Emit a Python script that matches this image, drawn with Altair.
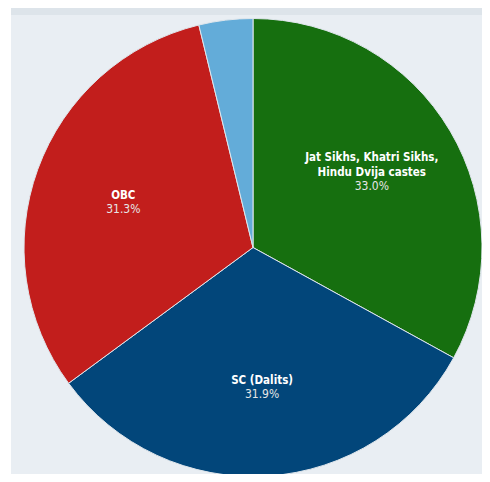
import altair as alt
import pandas as pd

line1 = ["Jat Sikhs, Khatri Sikhs,", "", "", ""]
line2 = ["Hindu Dvija castes", "SC (Dalits)", "OBC", ""]
groups = ["Jat Sikhs, Khatri Sikhs, Hindu Dvija castes", "SC (Dalits)", "OBC", "Others"]
shares = [33.0, 31.9, 31.3, 3.8]
pct_labels = ["33.0%", "31.9%", "31.3%", ""]
colors = ["#166f0f", "#02467a", "#c21e1c", "#63acd9"]
order = [0, 1, 2, 3]

df = pd.DataFrame({"group": groups, "l1": line1, "l2": line2, "share": shares,
                   "pct": pct_labels, "ord": order})

CX, CY, R = 245, 239.5, 229
FONT = "Liberation Sans Narrow, DejaVu Sans Condensed, Roboto"

band = alt.Chart(pd.DataFrame({"a": [0]})).mark_rect(color="#dde4ea").encode(
    x=alt.value(3), x2=alt.value(474), y=alt.value(0), y2=alt.value(7)
)
whitestrip = alt.Chart(pd.DataFrame({"a": [0]})).mark_rect(color="#ffffff").encode(
    x=alt.value(0), x2=alt.value(3), y=alt.value(0), y2=alt.value(466)
)

pie = alt.Chart(df).mark_arc(stroke="#dfe6ec", strokeWidth=1).encode(
    theta=alt.Theta("share:Q", stack=True),
    order=alt.Order("ord:Q"),
    color=alt.Color("group:N", scale=alt.Scale(domain=groups, range=colors), legend=None),
    x=alt.value(CX), y=alt.value(CY), radius=alt.value(R),
)

lbase = alt.Chart(df).encode(
    theta=alt.Theta("share:Q", stack=True),
    order=alt.Order("ord:Q"),
    x=alt.value(CX), y=alt.value(CY + 4), radius=alt.value(138),
)

name1 = lbase.mark_text(
    font=FONT, fontSize=11.5, fontWeight="bold", color="#ffffff",
    baseline="bottom", dy=-18,
).encode(text="l1:N")
name2 = lbase.mark_text(
    font=FONT, fontSize=11.5, fontWeight="bold", color="#ffffff",
    baseline="bottom", dy=-3,
).encode(text="l2:N")

pcts = lbase.mark_text(
    font=FONT, fontSize=12, color="#e6e6e6", baseline="top", dy=0,
).encode(text="pct:N")

chart = alt.layer(band, whitestrip, pie, name1, name2, pcts).properties(
    width=474, height=466,
    background="#e9eef3",
    padding=0,
    autosize=alt.AutoSizeParams(type="fit", contains="padding"),
).configure_view(stroke=None)

chart.save("out.html", embed_options={"renderer": "svg", "actions": False})
